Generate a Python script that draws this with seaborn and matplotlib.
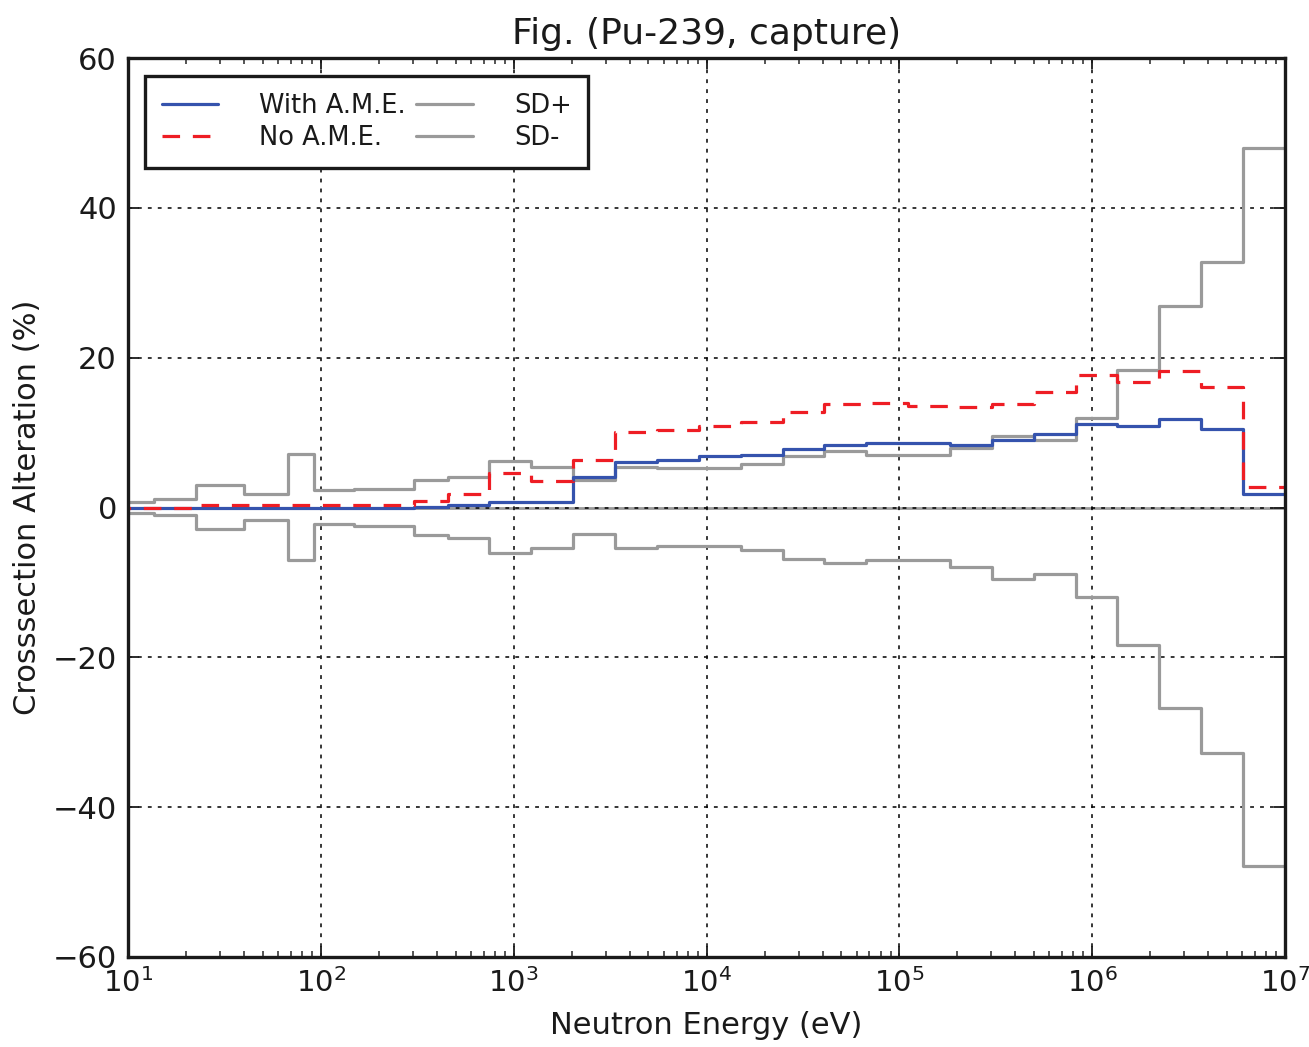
import numpy as np
import pandas as pd
import matplotlib
matplotlib.use("Agg")
import matplotlib.pyplot as plt
import seaborn as sns
from matplotlib.ticker import LogLocator, FixedLocator, NullFormatter, FixedFormatter

# ECCO-33 group boundaries (eV), low to high, within the plotted range
edges = [8.315, 13.71, 22.60, 40.17, 67.90, 91.66, 148.6, 304.3, 454.0, 748.5,
         1234.0, 2035.0, 3355.0, 5531.0, 9119.0, 1.503e4, 2.479e4, 4.087e4,
         6.738e4, 1.111e5, 1.832e5, 3.020e5, 4.979e5, 8.209e5, 1.353e6,
         2.231e6, 3.679e6, 6.065e6, 1.0e7]

with_ame = [-0.1, -0.1, -0.1, -0.1, -0.05, 0.0, 0.0, 0.05, 0.3, 0.7,
            0.7, 4.05, 6.05, 6.4, 6.85, 7.07, 7.8, 8.4, 8.63, 8.63,
            8.37, 8.95, 9.75, 11.17, 10.85, 11.8, 10.45, 1.83]

no_ame = [0.0, 0.0, 0.27, 0.27, 0.4, 0.36, 0.36, 0.93, 1.85, 4.6,
          3.6, 6.4, 10.05, 10.4, 10.85, 11.35, 12.8, 13.75, 13.9, 13.6,
          13.4, 13.85, 15.4, 17.75, 16.7, 18.2, 16.1, 2.7]

sd_plus = [0.8, 1.1, 3.0, 1.8, 7.2, 2.27, 2.5, 3.7, 4.05, 6.2,
           5.47, 3.7, 5.47, 5.25, 5.25, 5.74, 6.94, 7.6, 7.07, 7.07,
           7.97, 9.48, 8.95, 11.97, 18.4, 26.9, 32.75, 48.0]

sd_minus = [-0.7, -1.0, -2.9, -1.7, -7.0, -2.2, -2.5, -3.7, -4.05, -6.1,
            -5.4, -3.5, -5.4, -5.2, -5.2, -5.65, -6.85, -7.43, -7.07, -7.07,
            -7.97, -9.5, -8.86, -12.0, -18.42, -26.75, -32.75, -47.9]

series_names = ["With A.M.E.", "No A.M.E.", "SD+", "SD-"]
y_ticks = [-60, -40, -20, 0, 20, 40, 60]
x_ticks = [1e1, 1e2, 1e3, 1e4, 1e5, 1e6, 1e7]
x_ticklabels = ["$10^{1}$", "$10^{2}$", "$10^{3}$", "$10^{4}$", "$10^{5}$", "$10^{6}$", "$10^{7}$"]

sns.set_style("ticks")
plt.rcParams["font.family"] = ["DejaVu Sans"]
plt.rcParams["mathtext.fontset"] = "dejavusans"
plt.rcParams["mathtext.default"] = "regular"

fig = plt.figure(figsize=(13.09, 10.47), dpi=100)
ax = fig.add_axes([128/1309, 1-957/1047, (1285-128)/1309, (957-58)/1047])

def step_df(vals):
    return pd.DataFrame({"E": edges, "v": list(vals) + [vals[-1]]})

lw = 2.3
styles = {
    "With A.M.E.": dict(color="#3553ad", lw=lw, zorder=4),
    "No A.M.E.": dict(color="#ee1d24", lw=lw, zorder=5, dashes=(5.5, 4.0)),
    "SD+": dict(color="#9a9a9a", lw=lw, zorder=3),
    "SD-": dict(color="#9a9a9a", lw=lw, zorder=3),
}
data = {"With A.M.E.": with_ame, "No A.M.E.": no_ame, "SD+": sd_plus, "SD-": sd_minus}

handles = []
for name in series_names:
    st = dict(styles[name])
    dashes = st.pop("dashes", None)
    sns.lineplot(data=step_df(data[name]), x="E", y="v", ax=ax, estimator=None,
                 sort=False, drawstyle="steps-post", label=name, legend=False, **st)
    line = ax.get_lines()[-1]
    if dashes is not None:
        line.set_dashes(dashes)
    handles.append(line)

ax.axhline(0, color="#9a9a9a", lw=2.0, zorder=2)

ax.set_xscale("log")
ax.set_xlim(10, 1e7)
ax.set_ylim(-60, 60)
ax.yaxis.set_major_locator(FixedLocator(y_ticks))
ax.xaxis.set_major_locator(FixedLocator(x_ticks))
ax.xaxis.set_major_formatter(FixedFormatter(x_ticklabels))
ax.xaxis.set_minor_locator(LogLocator(base=10, subs=np.arange(2, 10), numticks=20))
ax.xaxis.set_minor_formatter(NullFormatter())

ax.set_axisbelow(False)
ax.grid(True, which="major", color="black", linestyle=(0, (2.5, 4)), lw=1.1, zorder=6)

for s in ax.spines.values():
    s.set_linewidth(2.4)
    s.set_color("#1a1a1a")
    s.set_zorder(7)

ax.tick_params(axis="both", which="major", direction="in", length=8, width=1.3,
               labelsize=22, top=True, right=True, pad=8, colors="#1a1a1a")
ax.tick_params(axis="x", which="major", labelsize=21)
ax.tick_params(axis="x", which="minor", direction="in", length=4, width=1.1,
               top=True, bottom=True)
ax.tick_params(axis="y", which="minor", left=False, right=False)

ax.set_xlabel("Neutron Energy (eV)", fontsize=22, color="#1a1a1a", labelpad=9)
ax.set_ylabel("Crosssection Alteration (%)", fontsize=22, color="#1a1a1a", labelpad=8)
ax.set_title("Fig. (Pu-239, capture)", fontsize=26, color="#1a1a1a", pad=10)

leg = ax.legend(handles, series_names, ncol=2, loc="upper left",
                bbox_to_anchor=(0.0147, 0.98), borderaxespad=0, fontsize=18.5,
                frameon=True, fancybox=False, framealpha=1, edgecolor="#1a1a1a",
                handlelength=2.2, handletextpad=1.6, columnspacing=0.4,
                labelspacing=0.25, borderpad=0.65)
leg.get_frame().set_linewidth(2.4)
leg.set_zorder(10)
for t in leg.get_texts():
    t.set_color("#1a1a1a")

fig.savefig("out.png", dpi=100)
